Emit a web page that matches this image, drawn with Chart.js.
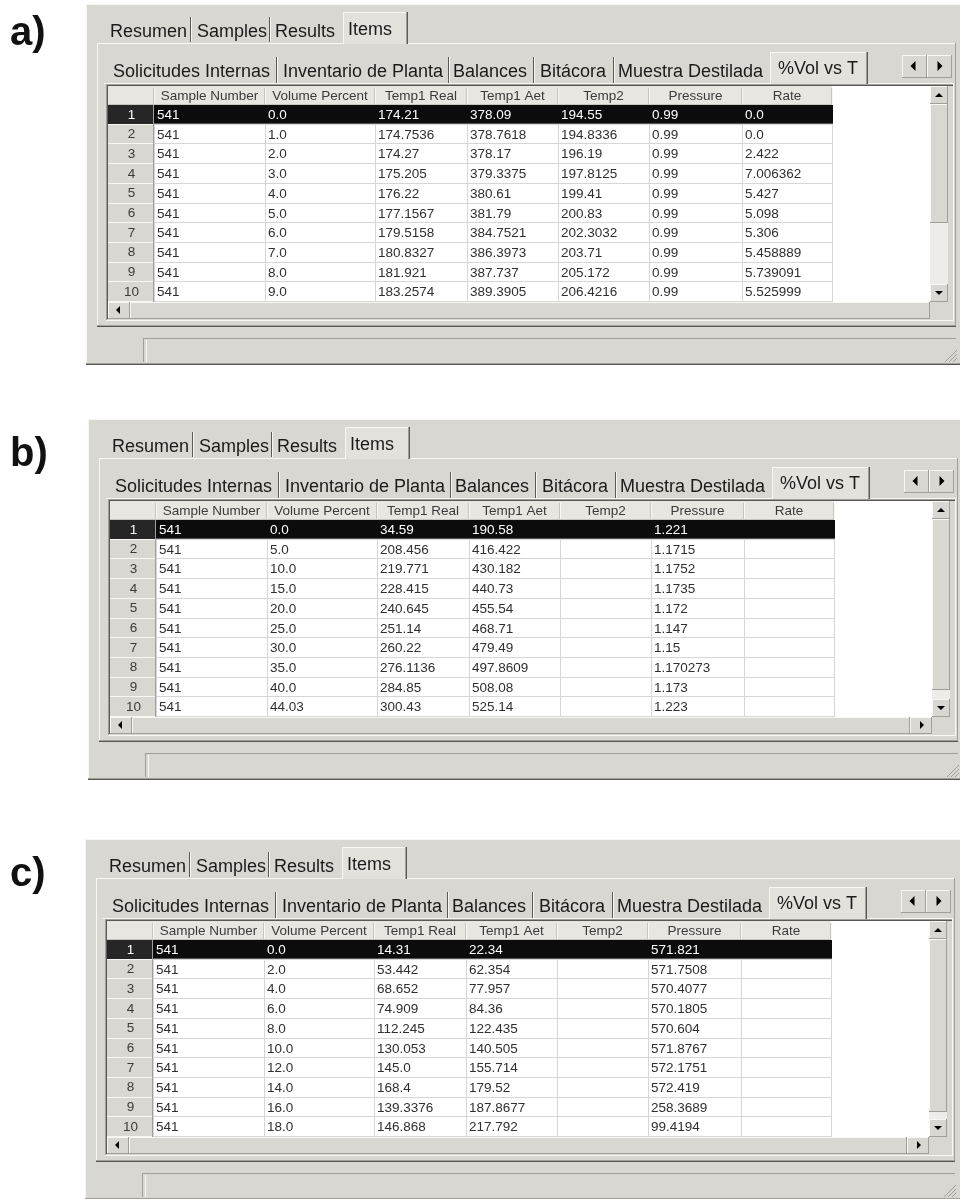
<!DOCTYPE html>
<html>
<head>
<meta charset="utf-8">
<title>%Vol vs T</title>
<script src="https://cdn.jsdelivr.net/npm/chart.js@4.4.1/dist/chart.umd.min.js"></script>
<style>
    html, body { margin: 0; padding: 0; background: #fff; }
    body { width: 960px; height: 1199px; position: relative; overflow: hidden; }
    .panel { position: absolute; left: 0; width: 960px; height: 370px; }
</style>
</head>
<body>
<div class="panel" style="top:0px"><canvas id="chartA" width="960" height="370"></canvas></div>
<div class="panel" style="top:415px"><canvas id="chartB" width="960" height="370"></canvas></div>
<div class="panel" style="top:835px"><canvas id="chartC" width="960" height="370"></canvas></div>
<script>
// Table texts
const topTabs = ['Resumen', 'Samples', 'Results', 'Items'];
const subTabs = ['Solicitudes Internas', 'Inventario de Planta', 'Balances', 'Bitácora', 'Muestra Destilada', '%Vol vs T'];
const columnHeaders = ['Sample Number', 'Volume Percent', 'Temp1 Real', 'Temp1 Aet', 'Temp2', 'Pressure', 'Rate'];
const rowNumbers = ['1', '2', '3', '4', '5', '6', '7', '8', '9', '10'];

// Panel a)
const sampleA = ['541', '541', '541', '541', '541', '541', '541', '541', '541', '541'];
const volumeA = ['0.0', '1.0', '2.0', '3.0', '4.0', '5.0', '6.0', '7.0', '8.0', '9.0'];
const temp1RealA = ['174.21', '174.7536', '174.27', '175.205', '176.22', '177.1567', '179.5158', '180.8327', '181.921', '183.2574'];
const temp1AetA = ['378.09', '378.7618', '378.17', '379.3375', '380.61', '381.79', '384.7521', '386.3973', '387.737', '389.3905'];
const temp2A = ['194.55', '194.8336', '196.19', '197.8125', '199.41', '200.83', '202.3032', '203.71', '205.172', '206.4216'];
const pressureA = ['0.99', '0.99', '0.99', '0.99', '0.99', '0.99', '0.99', '0.99', '0.99', '0.99'];
const rateA = ['0.0', '0.0', '2.422', '7.006362', '5.427', '5.098', '5.306', '5.458889', '5.739091', '5.525999'];

// Panel b)
const sampleB = ['541', '541', '541', '541', '541', '541', '541', '541', '541', '541'];
const volumeB = ['0.0', '5.0', '10.0', '15.0', '20.0', '25.0', '30.0', '35.0', '40.0', '44.03'];
const temp1RealB = ['34.59', '208.456', '219.771', '228.415', '240.645', '251.14', '260.22', '276.1136', '284.85', '300.43'];
const temp1AetB = ['190.58', '416.422', '430.182', '440.73', '455.54', '468.71', '479.49', '497.8609', '508.08', '525.14'];
const temp2B = ['', '', '', '', '', '', '', '', '', ''];
const pressureB = ['1.221', '1.1715', '1.1752', '1.1735', '1.172', '1.147', '1.15', '1.170273', '1.173', '1.223'];
const rateB = ['', '', '', '', '', '', '', '', '', ''];

// Panel c)
const sampleC = ['541', '541', '541', '541', '541', '541', '541', '541', '541', '541'];
const volumeC = ['0.0', '2.0', '4.0', '6.0', '8.0', '10.0', '12.0', '14.0', '16.0', '18.0'];
const temp1RealC = ['14.31', '53.442', '68.652', '74.909', '112.245', '130.053', '145.0', '168.4', '139.3376', '146.868'];
const temp1AetC = ['22.34', '62.354', '77.957', '84.36', '122.435', '140.505', '155.714', '179.52', '187.8677', '217.792'];
const temp2C = ['', '', '', '', '', '', '', '', '', ''];
const pressureC = ['571.821', '571.7508', '570.4077', '570.1805', '570.604', '571.8767', '572.1751', '572.419', '258.3689', '99.4194'];
const rateC = ['', '', '', '', '', '', '', '', '', ''];

// Layout (pixels, panel coordinates)
const L = {
    colWidths: [111, 110, 92, 91, 91, 93, 90],
    gridLeft: 108,      // left of the row-number column
    rowHeadWidth: 46,
    headerTop: 86,
    headerHeight: 19,
    bodyBottom: 302,
    topTabX: [110, 197, 275, 348],
    topSepX: [190, 269],
    subTabX: [113, 283, 453, 540, 618, 778],
    subSepX: [276, 448, 533, 613]
};

const C = {
    face: '#d9d7d1',
    faceLight: '#e3e1dc',
    light: '#f8f7f4',
    shadow: '#a19f99',
    dark: '#5a5955',
    headerBg: '#e8e6e1',
    rowHeadBg: '#d9d7d1',
    grid: '#d6d6d6',
    gridHead: '#c6c4be',
    track: '#eeece8',
    text: '#1b1b1b',
    cell: '#2f2f2f',
    head: '#3b3b3b',
    selected: '#0c0c0c'
};

const FONT = '"Liberation Sans", Arial, sans-serif';

// Column edges in scale units (cumulative widths)
const colEdges = [0];
L.colWidths.forEach(w => colEdges.push(colEdges[colEdges.length - 1] + w));
const totalWidth = colEdges[colEdges.length - 1];
const colCenters = L.colWidths.map((w, i) => colEdges[i] + w / 2);

// Small drawing helpers
function box(ctx, x, y, w, h, color) {
    ctx.fillStyle = color;
    ctx.fillRect(x, y, w, h);
}
function hline(ctx, x1, x2, y, color) {
    box(ctx, x1, y, x2 - x1, 1, color);
}
function vline(ctx, x, y1, y2, color) {
    box(ctx, x, y1, 1, y2 - y1, color);
}
function raised(ctx, x, y, w, h, fill) {
    box(ctx, x, y, w, h, fill || C.face);
    hline(ctx, x, x + w, y, C.light);
    vline(ctx, x, y, y + h, C.light);
    hline(ctx, x, x + w, y + h - 1, C.shadow);
    vline(ctx, x + w - 1, y, y + h, C.shadow);
}
function triangle(ctx, cx, cy, dir, s) {
    ctx.fillStyle = '#000';
    ctx.beginPath();
    if (dir === 'up') { ctx.moveTo(cx - s, cy + s / 2); ctx.lineTo(cx + s, cy + s / 2); ctx.lineTo(cx, cy - s / 2); }
    if (dir === 'down') { ctx.moveTo(cx - s, cy - s / 2); ctx.lineTo(cx + s, cy - s / 2); ctx.lineTo(cx, cy + s / 2); }
    if (dir === 'left') { ctx.moveTo(cx + s / 2, cy - s); ctx.lineTo(cx + s / 2, cy + s); ctx.lineTo(cx - s / 2, cy); }
    if (dir === 'right') { ctx.moveTo(cx - s / 2, cy - s); ctx.lineTo(cx - s / 2, cy + s); ctx.lineTo(cx + s / 2, cy); }
    ctx.closePath();
    ctx.fill();
}

// Window frame, tabs, status bar
function drawWindow(ctx, p) {
    ctx.save();
    ctx.translate(p.dx, 0);

    box(ctx, 86, 4, 880, 361, C.face);
    hline(ctx, 86, 966, 4, C.light);
    vline(ctx, 86, 4, 365, C.light);
    hline(ctx, 86, 966, 363, C.shadow);
    hline(ctx, 86, 966, 364, C.dark);

    // top tab row
    ctx.font = '18px ' + FONT;
    ctx.textBaseline = 'alphabetic';
    ctx.textAlign = 'left';
    box(ctx, 343, 12, 64, 32, C.faceLight);
    hline(ctx, 343, 407, 12, C.light);
    vline(ctx, 343, 12, 44, C.light);
    vline(ctx, 406, 12, 44, C.shadow);
    vline(ctx, 407, 12, 44, C.dark);
    L.topSepX.forEach(x => { vline(ctx, x, 17, 42, C.dark); vline(ctx, x + 1, 17, 42, C.light); });
    ctx.fillStyle = C.text;
    topTabs.forEach((t, i) => ctx.fillText(t, L.topTabX[i], i === 3 ? 35 : 37));

    // tab page border
    hline(ctx, 97, 343, 43, C.light);
    hline(ctx, 408, 956, 43, C.light);
    vline(ctx, 97, 43, 326, C.light);
    vline(ctx, 955, 43, 326, C.shadow);
    hline(ctx, 97, 956, 325, C.shadow);
    hline(ctx, 97, 956, 326, C.dark);

    // second tab row
    box(ctx, 770, 52, 97, 32, C.faceLight);
    hline(ctx, 770, 867, 52, C.light);
    vline(ctx, 770, 52, 84, C.light);
    vline(ctx, 866, 52, 84, C.shadow);
    vline(ctx, 867, 52, 84, C.dark);
    hline(ctx, 104, 770, 83, C.light);
    hline(ctx, 868, 954, 83, C.light);
    L.subSepX.forEach(x => { vline(ctx, x, 57, 83, C.dark); vline(ctx, x + 1, 57, 83, C.light); });
    ctx.fillStyle = C.text;
    subTabs.forEach((t, i) => ctx.fillText(t, L.subTabX[i], i === 5 ? 74 : 77));

    // tab scroll arrows
    raised(ctx, 902, 55, 25, 23);
    raised(ctx, 927, 55, 25, 23);
    triangle(ctx, 913, 66, 'left', 5);
    triangle(ctx, 940, 66, 'right', 5);

    // table frame (sunken)
    vline(ctx, 106, 84, 320, C.shadow);
    hline(ctx, 106, 954, 84, C.shadow);
    vline(ctx, 107, 85, 319, C.dark);
    hline(ctx, 107, 953, 85, C.dark);
    hline(ctx, 106, 954, 320, C.light);
    vline(ctx, 953, 84, 321, C.light);
    box(ctx, 108, 86, 845, 233, C.face);

    // status field and size grip
    hline(ctx, 143, 956, 338, C.shadow);
    vline(ctx, 143, 338, 362, C.shadow);
    vline(ctx, 146, 340, 362, C.light);
    for (let k = 4; k <= 12; k += 4) {
        ctx.strokeStyle = C.shadow;
        ctx.lineWidth = 1;
        ctx.beginPath();
        ctx.moveTo(957 - k, 362);
        ctx.lineTo(957, 362 - k);
        ctx.stroke();
    }
    ctx.restore();

    // panel letter
    ctx.fillStyle = '#111';
    ctx.font = 'bold 40px ' + FONT;
    ctx.fillText(p.label, 10, p.labelY);
}

// Grid backgrounds, selection, grid lines, scrollbars (from the scales)
function drawGrid(chart, p) {
    const ctx = chart.ctx;
    const xs = chart.scales.x;
    const ys = chart.scales.y;
    const area = chart.chartArea;
    const rowH = (area.bottom - area.top) / rowNumbers.length;
    const left = xs.getPixelForValue(colEdges[0]);
    const right = xs.getPixelForValue(totalWidth);
    const vbarX = 930 + p.dx;
    const headTop = area.top - L.headerHeight;

    // header band
    box(ctx, L.gridLeft + p.dx, headTop, right - L.gridLeft - p.dx, L.headerHeight, C.headerBg);
    box(ctx, right, headTop, vbarX - right, L.headerHeight, '#fff');
    // row-number column and body
    box(ctx, L.gridLeft + p.dx, area.top, left - L.gridLeft - p.dx, area.bottom - area.top, C.rowHeadBg);
    box(ctx, left, area.top, vbarX - left, area.bottom - area.top, '#fff');

    // header separators
    colEdges.forEach(v => {
        const x = Math.round(xs.getPixelForValue(v));
        vline(ctx, x - 1, headTop + 2, area.top - 1, C.gridHead);
        vline(ctx, x, headTop + 2, area.top - 1, C.light);
    });
    hline(ctx, L.gridLeft + p.dx, right, area.top - 1, C.gridHead);

    // body lines
    rowNumbers.forEach((r, i) => {
        const yb = Math.round(ys.getPixelForValue(i) + rowH / 2) - 1;
        hline(ctx, left, right, yb, C.grid);
        hline(ctx, L.gridLeft + p.dx, left - 1, yb, C.light);
    });
    colEdges.forEach(v => {
        const x = Math.round(xs.getPixelForValue(v));
        vline(ctx, x, area.top, area.bottom, C.grid);
    });
    vline(ctx, left - 1, area.top, area.bottom, C.shadow);

    // selected row
    const sy = Math.round(ys.getPixelForValue(p.selectedRow) - rowH / 2);
    box(ctx, left, sy, right - left + 1, Math.round(rowH) - 1, C.selected);
    box(ctx, L.gridLeft + p.dx, sy, left - L.gridLeft - p.dx - 1, Math.round(rowH) - 1, '#262626');
    hline(ctx, left, right + 1, sy + Math.round(rowH) - 2, '#555');

    // vertical scrollbar
    box(ctx, vbarX, headTop, 18, area.bottom - headTop, C.track);
    raised(ctx, vbarX, headTop, 18, 18);
    triangle(ctx, vbarX + 9, headTop + 9, 'up', 4);
    raised(ctx, vbarX, headTop + 18, 18, p.thumbEnd - headTop - 18);
    raised(ctx, vbarX, area.bottom - 18, 18, 18);
    triangle(ctx, vbarX + 9, area.bottom - 9, 'down', 4);

    // horizontal scrollbar
    const hbarL = L.gridLeft + p.dx;
    const hbarY = area.bottom;
    box(ctx, hbarL, hbarY, vbarX - hbarL, 17, C.track);
    raised(ctx, hbarL, hbarY, 22, 17);
    triangle(ctx, hbarL + 10, hbarY + 8, 'left', 4);
    if (p.rightArrow) {
        raised(ctx, hbarL + 22, hbarY, vbarX - hbarL - 44, 17);
        raised(ctx, vbarX - 22, hbarY, 22, 17);
        triangle(ctx, vbarX - 10, hbarY + 8, 'right', 4);
    } else {
        raised(ctx, hbarL + 22, hbarY, vbarX - hbarL - 22, 17);
    }
    box(ctx, vbarX, hbarY, 23, 17, C.face);
}

const tablePlugin = {
    id: 'sampleTable',
    beforeDraw(chart, args, opts) {
        drawWindow(chart.ctx, opts);
        drawGrid(chart, opts);
    },
    afterDraw(chart, args, opts) {
        const ctx = chart.ctx;
        const xs = chart.scales.x;
        const ys = chart.scales.y;
        ctx.save();
        ctx.font = '13.5px ' + FONT;
        ctx.textAlign = 'left';
        ctx.textBaseline = 'middle';
        opts.columns.forEach((col, c) => {
            const x = xs.getPixelForValue(colEdges[c]) + 3;
            col.forEach((val, r) => {
                ctx.fillStyle = r === opts.selectedRow ? '#ffffff' : C.cell;
                ctx.fillText(val, x, ys.getPixelForValue(r) + 0.5);
            });
        });
        ctx.restore();
    }
};

function buildPanel(canvasId, panel) {
    const canvas = document.getElementById(canvasId);
    const bodyTop = L.headerTop + L.headerHeight;
    return new Chart(canvas, {
        type: 'scatter',
        data: { datasets: [] },
        options: {
            responsive: false,
            animation: false,
            events: [],
            layout: {
                padding: {
                    left: L.gridLeft + panel.dx,
                    top: L.headerTop,
                    right: canvas.width - (L.gridLeft + L.rowHeadWidth + totalWidth + panel.dx),
                    bottom: canvas.height - L.bodyBottom
                }
            },
            plugins: {
                legend: { display: false },
                tooltip: { enabled: false },
                sampleTable: panel
            },
            scales: {
                x: {
                    type: 'linear',
                    position: 'top',
                    min: 0,
                    max: totalWidth,
                    grid: { display: false, drawTicks: false },
                    border: { display: false },
                    afterBuildTicks: scale => { scale.ticks = colCenters.map(v => ({ value: v })); },
                    afterFit: scale => { scale.height = L.headerHeight; },
                    ticks: {
                        autoSkip: false,
                        maxRotation: 0,
                        minRotation: 0,
                        padding: 1,
                        color: C.head,
                        font: { family: FONT, size: 13.5 },
                        callback: (value, index) => columnHeaders[index]
                    }
                },
                y: {
                    type: 'category',
                    labels: rowNumbers,
                    offset: true,
                    grid: { display: false, drawTicks: false },
                    border: { display: false },
                    afterFit: scale => { scale.width = L.rowHeadWidth; },
                    ticks: {
                        autoSkip: false,
                        crossAlign: 'center',
                        padding: 15,
                        font: { family: FONT, size: 13.5 },
                        color: ctx => ctx.index === panel.selectedRow ? '#ffffff' : C.head
                    }
                }
            }
        },
        plugins: [tablePlugin]
    });
}

buildPanel('chartA', {
    label: 'a)', labelY: 45, dx: 0, selectedRow: 0, thumbEnd: 223, rightArrow: false,
    columns: [sampleA, volumeA, temp1RealA, temp1AetA, temp2A, pressureA, rateA]
});
buildPanel('chartB', {
    label: 'b)', labelY: 51, dx: 2, selectedRow: 0, thumbEnd: 275, rightArrow: true,
    columns: [sampleB, volumeB, temp1RealB, temp1AetB, temp2B, pressureB, rateB]
});
buildPanel('chartC', {
    label: 'c)', labelY: 51, dx: -1, selectedRow: 0, thumbEnd: 277, rightArrow: true,
    columns: [sampleC, volumeC, temp1RealC, temp1AetC, temp2C, pressureC, rateC]
});
</script>
</body>
</html>
